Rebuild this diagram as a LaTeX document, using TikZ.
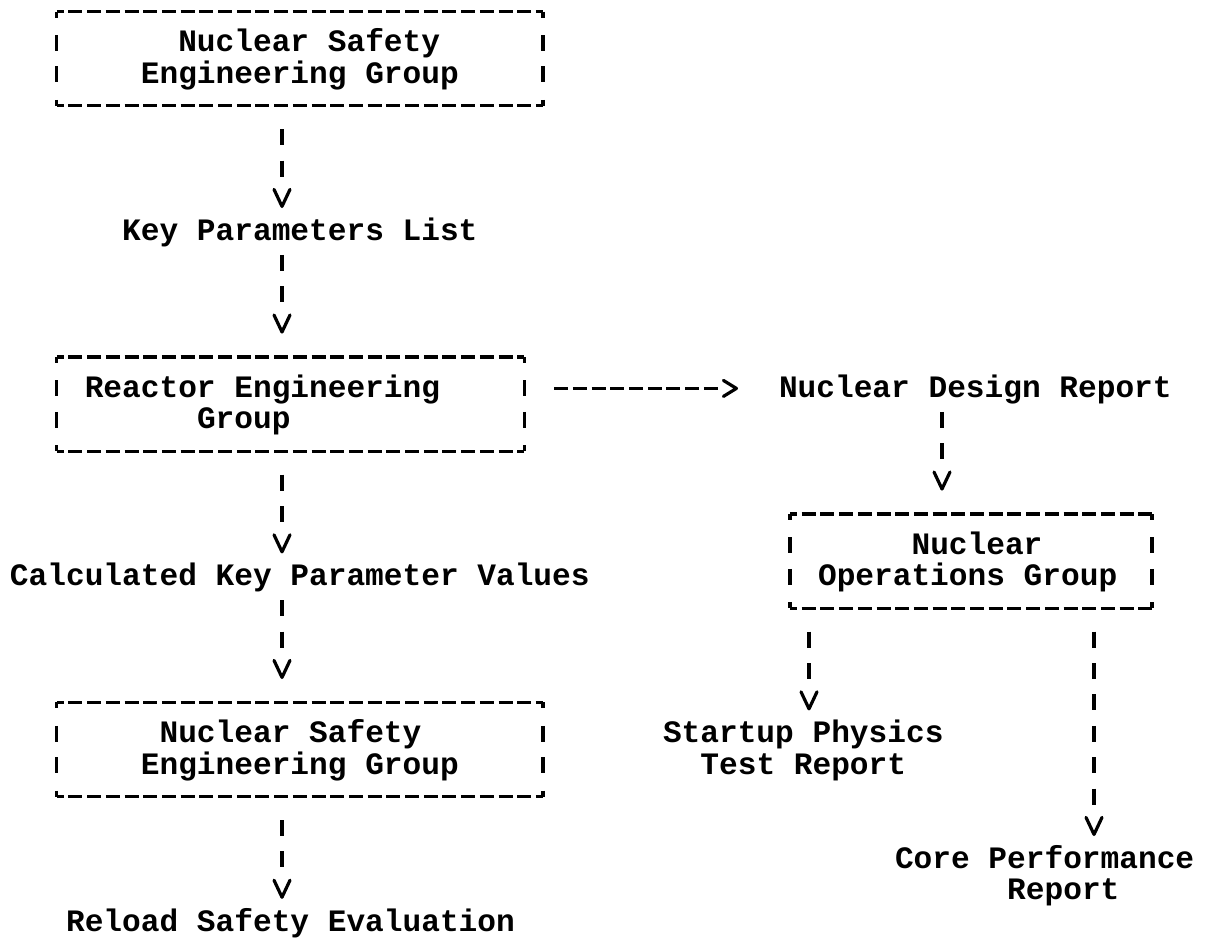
\documentclass[tikz,border=0pt]{standalone}
\usepackage{fontspec}
\setmonofont{Liberation Mono}
\usetikzlibrary{arrows.meta}

% one typewriter column
\newlength{\charw}
\setlength{\charw}{9.35pt}
% blank columns at the start of a line
\newcommand{\pad}[1]{\hspace*{#1\charw}}
% frame of a group box: dashed rules top and bottom, bars on the sides
\newcommand{\frameit}[1]{%
  \draw[hrule] (#1.north west) -- (#1.north east);
  \draw[hrule] (#1.south west) -- (#1.south east);
  \draw[vrule] (#1.north west) -- (#1.south west);
  \draw[vrule] (#1.north east) -- (#1.south east);}

\tikzset{
  txt/.style={font=\ttfamily\bfseries\fontsize{15.58pt}{15.7pt}\selectfont,
    inner sep=0pt, outer sep=0pt, align=left,
    execute at begin node={\spaceskip=\charw\relax\rule{0pt}{12.3pt}},
    execute at end node=\rule[-3.4pt]{0pt}{3.4pt}},
  groupbox/.style={txt, inner xsep=1.5\charw, inner ysep=7.85pt},
  hrule/.style={line width=1.6pt, dash pattern=on 7pt off 2.35pt, dash phase=3.5pt},
  vrule/.style={line width=1.6pt,
    dash pattern=on 3pt off 8.7pt on 8pt off 7.7pt on 8pt off 8.7pt on 3pt off 20pt},
  link/.style={line width=1.6pt, dash pattern=on 8pt off 7.7pt on 8pt off 99pt,
    -{Straight Barb[round,length=8.5pt,width=8pt]},
    shorten <=3.85pt, shorten >=3.85pt},
  outbox/.style={shorten <=11.7pt},
  inbox/.style={shorten >=11.7pt},
  longlink/.style={link, dash pattern=on 8pt off 7.7pt on 8pt off 7.7pt on 8pt off 7.7pt
    on 8pt off 7.7pt on 8pt off 7.7pt on 8pt off 99pt},
  sidelink/.style={line width=1.6pt,
    dash pattern=on 7pt off 2.35pt on 7pt off 2.35pt on 7pt off 2.35pt on 7pt off 2.35pt
    on 7pt off 2.35pt on 7pt off 2.35pt on 7pt off 2.35pt on 7pt off 2.35pt on 7pt off 99pt,
    -{Straight Barb[round,length=6.5pt,width=8pt]},
    shorten <=15pt, shorten >=20.5pt}
}

\begin{document}
\begin{tikzpicture}[x=0.5pt, y=-0.5pt]
  \useasboundingbox (0,0) rectangle (1208,939);
  % columns the links run down
  \coordinate (lspine) at (282,0);
  \coordinate (rspine) at (942,0);
  \coordinate (physx) at (809,0);
  \coordinate (perfx) at (1094,0);

  % left column
  \node[groupbox, text width=23\charw] (nseA) at (299.85,58.7)
    {\pad{5}Nuclear Safety\\\pad{3}Engineering Group};
  \frameit{nseA}
  \node[txt, anchor=west, text width=19\charw] (keys) at (122.2,231.4) {Key Parameters List};
  \node[groupbox, text width=22\charw] (reactor) at (290.5,404.1)
    {Reactor Engineering\\\pad{6}Group};
  \frameit{reactor}
  \node[txt, anchor=west, text width=31\charw] (calc) at (10,576.8)
    {Calculated Key Parameter Values};
  \node[groupbox, text width=23\charw] (nseB) at (299.85,749.5)
    {\pad{4}Nuclear Safety\\\pad{3}Engineering Group};
  \frameit{nseB}
  \node[txt, anchor=west, text width=24\charw] (reload) at (66.1,922.2)
    {Reload Safety Evaluation};

  % right column
  \node[txt, anchor=west, text width=21\charw] (ndr) at (779,388.4) {Nuclear Design Report};
  \node[groupbox, text width=152.95pt] (nog) at (971,561.1)
    {\pad{5}Nuclear\\Operations Group};
  \frameit{nog}
  \node[txt, anchor=west, text width=15\charw] (sphys) at (663,749.5)
    {Startup Physics\\\pad{2}Test Report};
  \node[txt, anchor=west, text width=16\charw] (cperf) at (895,875.1)
    {Core Performance\\\pad{6}Report};

  % links
  \draw[link, outbox] (nseA.south -| lspine) -- (keys.north -| lspine);
  \draw[link, inbox] (keys.south -| lspine) -- (reactor.north -| lspine);
  \draw[link, outbox] (reactor.south -| lspine) -- (calc.north -| lspine);
  \draw[link, inbox] (calc.south -| lspine) -- (nseB.north -| lspine);
  \draw[link, outbox] (nseB.south -| lspine) -- (reload.north -| lspine);
  \draw[sidelink] (ndr.west -| reactor.east) -- (ndr.west);
  \draw[link, inbox] (ndr.south -| rspine) -- (nog.north -| rspine);
  \draw[link, outbox] (nog.south -| physx) -- (sphys.north -| physx);
  \draw[longlink, outbox] (nog.south -| perfx) -- (cperf.north -| perfx);
\end{tikzpicture}
\end{document}
